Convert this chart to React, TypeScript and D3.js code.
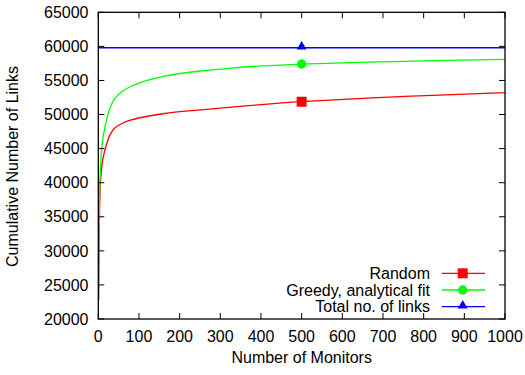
import React from "react";
import * as d3 from "d3";

const monitors = [1, 2, 3, 5, 8, 12, 20, 28, 40, 57, 81, 122, 163, 245, 327, 393, 500, 754, 1000];
const randomLinks = [22800, 31000, 35500, 39800, 42000, 43700, 45600, 46900, 48000, 48650, 49200, 49750, 50150, 50650, 51080, 51420, 51880, 52650, 53200];
const greedyLinks = [26200, 33500, 37800, 41800, 44700, 46800, 49100, 50800, 52300, 53300, 54150, 55050, 55650, 56350, 56820, 57100, 57410, 57810, 58100];
const totalX = [0, 1000];
const totalLinks = [59800, 59800];
const markerX = 500;
const xTicks = [0, 100, 200, 300, 400, 500, 600, 700, 800, 900, 1000];
const yTicks = [20000, 25000, 30000, 35000, 40000, 45000, 50000, 55000, 60000, 65000];
const seriesNames = ["Random", "Greedy, analytical fit", "Total no. of links"];
const seriesColors = ["#ff0000", "#00ff00", "#0000ff"];

const W = 525, H = 375;
const L = 98.3, R = 505, T = 12.3, B = 319;
const FONT = "'Liberation Sans', Arial, sans-serif";

export default function App() {
  const x = d3.scaleLinear().domain([0, 1000]).range([L, R]);
  const y = d3.scaleLinear().domain([20000, 65000]).range([B, T]);
  const line = d3
    .line<[number, number]>()
    .x((d) => x(d[0]))
    .y((d) => y(d[1]))
    .curve(d3.curveCatmullRom.alpha(0.5));

  const series = [
    { xs: monitors, ys: randomLinks },
    { xs: monitors, ys: greedyLinks },
    { xs: totalX, ys: totalLinks },
  ];
  const symbols = [d3.symbolSquare, d3.symbolCircle, d3.symbolTriangle];
  const symbolSizes = [100, 70, 42];
  const interp = (xs: number[], ys: number[], v: number) => {
    const i = d3.bisectLeft(xs, v);
    if (xs[i] === v) return ys[i];
    const t = (v - xs[i - 1]) / (xs[i] - xs[i - 1]);
    return ys[i - 1] + t * (ys[i] - ys[i - 1]);
  };
  const tickLen = 6;
  const legendY = [273.3, 290, 306.7];

  return (
    <svg
      width={W}
      height={H}
      style={{ position: "absolute", left: 0, top: 0, background: "#fff" }}
      fontFamily={FONT}
      fontSize={16}
    >
      <rect x={0} y={0} width={W} height={H} fill="#fff" />
      {series.map((s, i) => (
        <path
          key={"s" + i}
          d={line(s.xs.map((v, j) => [v, s.ys[j]] as [number, number])) || ""}
          fill="none"
          stroke={seriesColors[i]}
          strokeWidth={1.3}
        />
      ))}
      {series.map((s, i) => {
        const p = d3.symbol().type(symbols[i]).size(symbolSizes[i])();
        return (
          <path
            key={"m" + i}
            d={p || ""}
            fill={seriesColors[i]}
            transform={`translate(${x(markerX)},${y(interp(s.xs, s.ys, markerX)) + (i === 2 ? -1 : 0)})`}
          />
        );
      })}
      <rect x={L} y={T} width={R - L} height={B - T} fill="none" stroke="#000" strokeWidth={1.3} />
      {xTicks.map((t) => (
        <g key={"xt" + t}>
          <line x1={x(t)} x2={x(t)} y1={B} y2={B - tickLen} stroke="#000" strokeWidth={1} />
          <line x1={x(t)} x2={x(t)} y1={T} y2={T + tickLen} stroke="#000" strokeWidth={1} />
          <text x={x(t)} y={342} textAnchor="middle" fill="#000">
            {t}
          </text>
        </g>
      ))}
      {yTicks.map((t) => (
        <g key={"yt" + t}>
          <line x1={L} x2={L + tickLen} y1={y(t)} y2={y(t)} stroke="#000" strokeWidth={1} />
          <line x1={R} x2={R - tickLen} y1={y(t)} y2={y(t)} stroke="#000" strokeWidth={1} />
          <text x={88.5} y={y(t) + 5.7} textAnchor="end" fill="#000">
            {t}
          </text>
        </g>
      ))}
      <text x={301.7} y={363} textAnchor="middle" fill="#000">
        Number of Monitors
      </text>
      <text transform="translate(17.5,166.5) rotate(-90)" textAnchor="middle" fill="#000">
        Cumulative Number of Links
      </text>
      {seriesNames.map((n, i) => {
        const p = d3.symbol().type(symbols[i]).size(symbolSizes[i])();
        return (
          <g key={"lg" + i}>
            <text x={430} y={legendY[i] + 5.7} textAnchor="end" fill="#000">
              {n}
            </text>
            <line x1={441.7} x2={485} y1={legendY[i]} y2={legendY[i]} stroke={seriesColors[i]} strokeWidth={1.3} />
            <path d={p || ""} fill={seriesColors[i]} transform={`translate(462.7,${legendY[i] + (i === 2 ? -1 : 0)})`} />
          </g>
        );
      })}
    </svg>
  );
}
